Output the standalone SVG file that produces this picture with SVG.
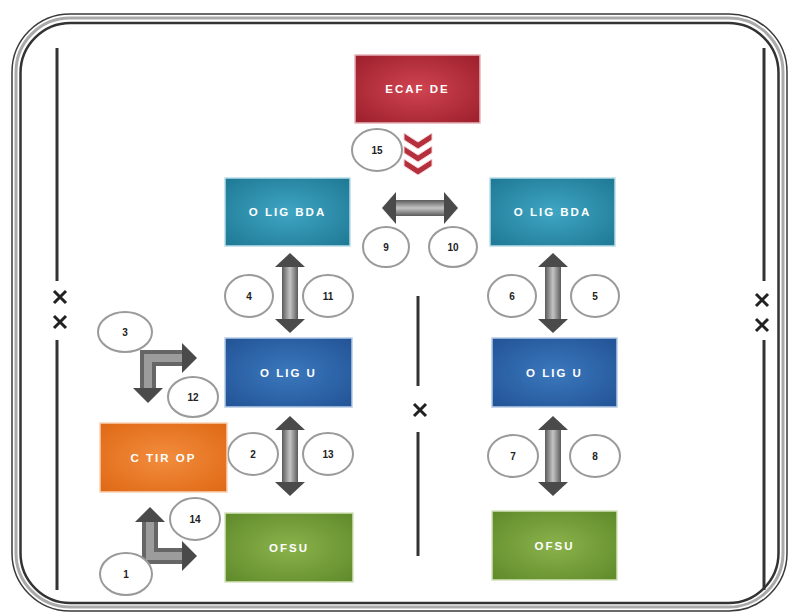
<svg xmlns="http://www.w3.org/2000/svg" width="799" height="615" viewBox="0 0 799 615">
  <defs>
    <style>
      .lbl { font-family: "Liberation Sans", Arial, sans-serif; font-weight: bold; font-size: 11.5px; fill: #ffffff; text-anchor: middle; dominant-baseline: central; letter-spacing: 2px; }
      .num { font-family: "Liberation Sans", Arial, sans-serif; font-weight: bold; font-size: 10px; fill: #222; text-anchor: middle; dominant-baseline: central; }
      .ring { fill: #ffffff; stroke: #9a9a9a; stroke-width: 2; }
      .sep { stroke: #333; stroke-width: 3; }
      .cross { stroke: #222; stroke-width: 3; stroke-linecap: butt; }
      .head { fill: #4a4a4a; }
    </style>
    <radialGradient id="gRed" cx="0.5" cy="0.5" r="0.7">
      <stop offset="0" stop-color="#d04450"/>
      <stop offset="1" stop-color="#9c1f2c"/>
    </radialGradient>
    <radialGradient id="gTeal" cx="0.5" cy="0.5" r="0.7">
      <stop offset="0" stop-color="#3ea6c3"/>
      <stop offset="1" stop-color="#1f7894"/>
    </radialGradient>
    <radialGradient id="gBlue" cx="0.5" cy="0.5" r="0.7">
      <stop offset="0" stop-color="#3b78bd"/>
      <stop offset="1" stop-color="#225396"/>
    </radialGradient>
    <radialGradient id="gOrange" cx="0.5" cy="0.5" r="0.7">
      <stop offset="0" stop-color="#f28d3e"/>
      <stop offset="1" stop-color="#df6814"/>
    </radialGradient>
    <radialGradient id="gGreen" cx="0.5" cy="0.5" r="0.7">
      <stop offset="0" stop-color="#8bb24b"/>
      <stop offset="1" stop-color="#5f8a2a"/>
    </radialGradient>
    <linearGradient id="gShaft" x1="0" y1="0" x2="1" y2="0">
      <stop offset="0" stop-color="#5a5a5a"/>
      <stop offset="0.5" stop-color="#c4c4c4"/>
      <stop offset="1" stop-color="#5a5a5a"/>
    </linearGradient>
    <linearGradient id="gShaftV" x1="0" y1="0" x2="0" y2="1">
      <stop offset="0" stop-color="#5a5a5a"/>
      <stop offset="0.5" stop-color="#c4c4c4"/>
      <stop offset="1" stop-color="#5a5a5a"/>
    </linearGradient>
    <!-- vertical two-headed arrow, 80 tall, tip at origin -->
    <g id="dblArrow">
      <rect x="-8" y="12" width="16" height="56" fill="url(#gShaft)"/>
      <path class="head" d="M0,0 L15,14 L-15,14 Z"/>
      <path class="head" d="M0,80 L15,66 L-15,66 Z"/>
    </g>
    <!-- red chevron -->
    <path id="chev" d="M-14,0 L0,9 L14,0 L14,7 L0,16 L-14,7 Z" fill="#b52f3d" stroke="#f3d6d9" stroke-width="1"/>
  </defs>

  <rect width="799" height="615" fill="#ffffff"/>

  <!-- outer frame -->
  <g id="frame" fill="none">
    <rect x="12" y="14" width="775" height="597" rx="58" stroke="#3a3a3a" stroke-width="1.5"/>
    <rect x="16" y="18" width="767" height="589" rx="54" stroke="#aaaaaa" stroke-width="3"/>
    <rect x="20.5" y="23" width="758" height="580" rx="50" stroke="#333333" stroke-width="2.5"/>
  </g>

  <!-- separators -->
  <g id="separators">
    <line class="sep" x1="57" y1="48" x2="57" y2="281"/>
    <line class="sep" x1="57" y1="340" x2="57" y2="590"/>
    <line class="sep" x1="764" y1="48" x2="764" y2="281"/>
    <line class="sep" x1="764" y1="340" x2="764" y2="590"/>
    <line class="sep" x1="418" y1="296" x2="418" y2="386"/>
    <line class="sep" x1="418" y1="432" x2="418" y2="556"/>
    <path class="cross" d="M54,291 L66,303 M66,291 L54,303"/>
    <path class="cross" d="M54,316 L66,328 M66,316 L54,328"/>
    <path class="cross" d="M756,294 L768,306 M768,294 L756,306"/>
    <path class="cross" d="M756,319 L768,331 M768,319 L756,331"/>
    <path class="cross" d="M414,404 L426,416 M426,404 L414,416"/>
  </g>

  <!-- connectors -->
  <g id="connectors">
    <use href="#chev" x="418" y="133"/>
    <use href="#chev" x="418" y="146"/>
    <use href="#chev" x="418" y="159"/>
    <!-- horizontal two-headed arrow -->
    <g transform="translate(382,208)">
      <rect x="12" y="-8" width="52" height="16" fill="url(#gShaftV)"/>
      <path class="head" d="M0,0 L14,-16 L14,16 Z"/>
      <path class="head" d="M76,0 L62,-16 L62,16 Z"/>
    </g>
    <use href="#dblArrow" x="290" y="253"/>
    <use href="#dblArrow" x="290" y="416"/>
    <use href="#dblArrow" x="553" y="253"/>
    <use href="#dblArrow" x="553" y="416"/>
    <!-- elbow arrow: right and down -->
    <g>
      <path d="M140,350 L183,350 L183,366 L156,366 L156,389 L140,389 Z" fill="#666666"/>
      <path d="M144,354 L183,354 L183,362 L152,362 L152,389 L144,389 Z" fill="#9c9c9c"/>
      <path class="head" d="M197,358 L182,343 L182,373 Z"/>
      <path class="head" d="M148,403 L133,388 L163,388 Z"/>
    </g>
    <!-- elbow arrow: up and right -->
    <g>
      <path d="M142,521 L158,521 L158,548 L183,548 L183,564 L142,564 Z" fill="#666666"/>
      <path d="M146,521 L154,521 L154,552 L183,552 L183,560 L146,560 Z" fill="#9c9c9c"/>
      <path class="head" d="M150,507 L135,522 L165,522 Z"/>
      <path class="head" d="M197,556 L182,541 L182,571 Z"/>
    </g>
  </g>

  <!-- number tags -->
  <g id="tags">
    <g id="t15"><ellipse class="ring" cx="377" cy="150" rx="25" ry="21"/><text class="num" x="377" y="150">15</text></g>
    <g id="t9"><ellipse class="ring" cx="386" cy="247" rx="23" ry="20"/><text class="num" x="386" y="247">9</text></g>
    <g id="t10"><ellipse class="ring" cx="453" cy="247" rx="24" ry="20"/><text class="num" x="453" y="247">10</text></g>
    <g id="t4"><ellipse class="ring" cx="249" cy="296" rx="24" ry="21"/><text class="num" x="249" y="296">4</text></g>
    <g id="t11"><ellipse class="ring" cx="328" cy="296" rx="25" ry="21"/><text class="num" x="328" y="296">11</text></g>
    <g id="t6"><ellipse class="ring" cx="512" cy="296" rx="24" ry="21"/><text class="num" x="512" y="296">6</text></g>
    <g id="t5"><ellipse class="ring" cx="595" cy="296" rx="24" ry="21"/><text class="num" x="595" y="296">5</text></g>
    <g id="t3"><ellipse class="ring" cx="125" cy="332" rx="27" ry="20"/><text class="num" x="125" y="332">3</text></g>
    <g id="t12"><ellipse class="ring" cx="193" cy="397" rx="25" ry="20"/><text class="num" x="193" y="397">12</text></g>
    <g id="t2"><ellipse class="ring" cx="253" cy="454" rx="25" ry="21"/><text class="num" x="253" y="454">2</text></g>
    <g id="t13"><ellipse class="ring" cx="328" cy="454" rx="25" ry="21"/><text class="num" x="328" y="454">13</text></g>
    <g id="t7"><ellipse class="ring" cx="513" cy="456" rx="25" ry="21"/><text class="num" x="513" y="456">7</text></g>
    <g id="t8"><ellipse class="ring" cx="595" cy="456" rx="25" ry="21"/><text class="num" x="595" y="456">8</text></g>
    <g id="t14"><ellipse class="ring" cx="195" cy="519" rx="25" ry="21"/><text class="num" x="195" y="519">14</text></g>
    <g id="t1"><ellipse class="ring" cx="126" cy="574" rx="26" ry="21"/><text class="num" x="126" y="574">1</text></g>
  </g>

  <!-- nodes -->
  <g id="ecafde">
    <rect x="355" y="55" width="125" height="68" fill="url(#gRed)" stroke="#e6b3b8" stroke-width="1.5"/>
    <text class="lbl" x="417.5" y="89">ECAF DE</text>
  </g>
  <g id="oligbda-left">
    <rect x="225" y="178" width="125" height="68" fill="url(#gTeal)" stroke="#b8dde8" stroke-width="1.5"/>
    <text class="lbl" x="287.5" y="212">O LIG BDA</text>
  </g>
  <g id="oligbda-right">
    <rect x="490" y="178" width="125" height="68" fill="url(#gTeal)" stroke="#b8dde8" stroke-width="1.5"/>
    <text class="lbl" x="552.5" y="212">O LIG BDA</text>
  </g>
  <g id="oligu-left">
    <rect x="225" y="338" width="127" height="69" fill="url(#gBlue)" stroke="#b7cbe6" stroke-width="1.5"/>
    <text class="lbl" x="288.5" y="372.5">O LIG U</text>
  </g>
  <g id="oligu-right">
    <rect x="492" y="338" width="125" height="69" fill="url(#gBlue)" stroke="#b7cbe6" stroke-width="1.5"/>
    <text class="lbl" x="554.5" y="372.5">O LIG U</text>
  </g>
  <g id="ctirop">
    <rect x="100" y="423" width="127" height="69" fill="url(#gOrange)" stroke="#f8d2b4" stroke-width="1.5"/>
    <text class="lbl" x="163.5" y="457.5">C TIR OP</text>
  </g>
  <g id="ofsu-left">
    <rect x="225" y="513" width="128" height="69" fill="url(#gGreen)" stroke="#d5e3bd" stroke-width="1.5"/>
    <text class="lbl" x="289" y="547.5">OFSU</text>
  </g>
  <g id="ofsu-right">
    <rect x="492" y="511" width="125" height="69" fill="url(#gGreen)" stroke="#d5e3bd" stroke-width="1.5"/>
    <text class="lbl" x="554.5" y="545.5">OFSU</text>
  </g>
</svg>
